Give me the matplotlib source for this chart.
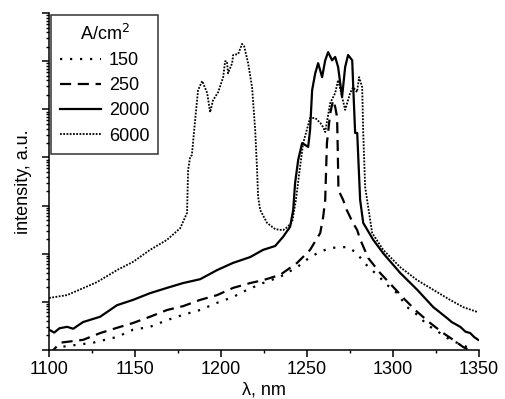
import numpy as np
import matplotlib
matplotlib.use("Agg")
import matplotlib.pyplot as plt
from matplotlib.ticker import LogLocator, MultipleLocator, NullFormatter

plt.rcParams['font.family'] = ['Liberation Sans', 'DejaVu Sans']

# wavelength (nm) and log10 of intensity (a.u.) for each current density
wl_150 = [1100, 1106.4, 1125.6, 1139.5, 1148.8, 1158.7, 1168.6, 1177.9, 1187.8, 1197.7,
          1207, 1215.1, 1224.4, 1234.3, 1244.2, 1251.7, 1257.6, 1263.4, 1273.3, 1279.1,
          1282.6, 1292.4, 1296.5, 1302.3, 1308.1, 1314, 1319.8, 1327.3, 1333.1, 1343, 1350]
lg_150 = [-0.2, 0.06, 0.15, 0.27, 0.42, 0.48, 0.62, 0.73, 0.83, 0.98,
          1.10, 1.25, 1.39, 1.52, 1.72, 1.93, 2.04, 2.12, 2.14, 2.01,
          1.83, 1.50, 1.35, 1.18, 0.89, 0.73, 0.52, 0.35, 0.21, 0.06, -0.1]

wl_250 = [1100, 1106.4, 1119.8, 1129.7, 1139.5, 1148.8, 1158.7, 1168.6, 1177.9, 1187.8,
          1197.7, 1207, 1216.9, 1224.4, 1234.3, 1244.2, 1251.7, 1257.6, 1259.3, 1260.5,
          1261.5, 1263.4, 1265.1, 1266.3, 1267.4, 1267.8, 1268.2, 1270.9, 1273, 1276.5,
          1279.1, 1280.8, 1285.5, 1292.4, 1300, 1307, 1314, 1321.5, 1329.1, 1334.9,
          1340.7, 1350]
lg_250 = [-0.1, 0.15, 0.21, 0.35, 0.46, 0.56, 0.69, 0.83, 0.91, 1.04,
          1.14, 1.29, 1.39, 1.45, 1.56, 1.81, 2.08, 2.43, 2.76, 3.12,
          4.30, 4.92, 5.19, 5.05, 4.84, 4.15, 3.32, 3.12, 2.91, 2.65,
          2.49, 2.30, 1.91, 1.60, 1.31, 1.04, 0.79, 0.56, 0.35, 0.21,
          0.06, -0.1]

wl_2000 = [1100, 1103, 1106, 1110.5, 1114, 1119.8, 1129.7, 1139.5, 1148.8, 1158.7,
           1168.6, 1177.9, 1187.8, 1197.7, 1207, 1216.9, 1224.4, 1231.4, 1236, 1240.1,
           1241.9, 1243, 1244.8, 1247.1, 1250.6, 1251.7, 1252.9, 1254.7, 1256.4, 1258.7,
           1260.5, 1262.2, 1264.5, 1266.3, 1268, 1270.3, 1272.1, 1273.8, 1276.2, 1276.7,
           1277.9, 1279.1, 1280.8, 1282.6, 1288.4, 1294.2, 1304.1, 1314, 1323.3, 1331.4,
           1334, 1337, 1339, 1342, 1344.8, 1347, 1349.4]
lg_2000 = [0.42, 0.36, 0.45, 0.48, 0.44, 0.58, 0.69, 0.93, 1.04, 1.18,
           1.29, 1.39, 1.47, 1.66, 1.81, 1.93, 2.08, 2.16, 2.35, 2.56,
           2.91, 3.47, 3.95, 4.30, 4.22, 4.57, 5.40, 5.75, 5.96, 5.67,
           6.02, 6.19, 6.02, 6.09, 5.88, 5.26, 5.88, 6.13, 6.02, 5.55,
           4.51, 4.51, 3.12, 2.64, 2.29, 2.01, 1.60, 1.25, 0.89, 0.66,
           0.58, 0.52, 0.48, 0.38, 0.35, 0.27, 0.21]

wl_6000 = [1100, 1110.5, 1127.9, 1139.5, 1148.8, 1158.7, 1168.6, 1176.2, 1180.2, 1180.8,
           1182, 1183, 1184.9, 1186.6, 1189, 1191.9, 1193.6, 1195.3, 1198.3, 1201.2,
           1202.3, 1203.4, 1204, 1206.4, 1207, 1209.9, 1212.2, 1213.4, 1215.7, 1218,
           1219.8, 1220.9, 1221.5, 1222.7, 1226.7, 1231.4, 1236, 1238.4, 1241.3, 1243.5,
           1245.5, 1247.7, 1251.7, 1254.7, 1257.6, 1259.3, 1260.5, 1263.4, 1266.3, 1268,
           1270.3, 1272.1, 1275, 1276.7, 1279, 1280.2, 1282, 1282.6, 1283.7, 1287.8,
           1294.2, 1304.1, 1314, 1323.3, 1333.1, 1340.7, 1348.8]
lg_6000 = [1.08, 1.14, 1.41, 1.66, 1.83, 2.08, 2.29, 2.53, 2.85, 3.74,
           4.01, 4.05, 4.78, 5.40, 5.59, 5.34, 4.94, 5.19, 5.36, 5.67,
           6.00, 6.00, 5.75, 5.96, 6.13, 6.15, 6.36, 6.31, 5.96, 5.46,
           4.57, 3.74, 3.18, 2.91, 2.64, 2.51, 2.49, 2.55, 2.66, 3.12,
           3.70, 4.30, 4.82, 4.82, 4.72, 4.63, 4.53, 5.13, 5.34, 5.61,
           5.26, 4.99, 5.34, 5.46, 5.36, 5.67, 5.46, 4.51, 3.39, 2.43,
           2.08, 1.72, 1.45, 1.25, 1.04, 0.89, 0.79]

labels = ['150', '250', '2000', '6000']
styles = [(0, (1, 3.5)), (0, (5, 3)), '-', (0, (1, 0.8))]
widths = [1.6, 1.6, 1.6, 1.3]

fig = plt.figure(figsize=(5.06, 3.99), dpi=100)
ax = fig.add_axes([0.097, 0.123, 0.85, 0.844])

series = [(wl_150, lg_150), (wl_250, lg_250), (wl_2000, lg_2000), (wl_6000, lg_6000)]
for (wl, lg), lab, ls, lw in zip(series, labels, styles, widths):
    ax.plot(wl, np.power(10.0, lg), color='black', linestyle=ls, linewidth=lw, label=lab)

ax.set_yscale('log')
ax.set_ylim(1, 1e7)
ax.set_xlim(1100, 1350)
ax.xaxis.set_major_locator(MultipleLocator(50))
ax.xaxis.set_minor_locator(MultipleLocator(25))
ax.yaxis.set_major_locator(LogLocator(base=10, numticks=20))
ax.yaxis.set_minor_locator(LogLocator(base=10, subs=np.arange(2, 10), numticks=20))
ax.yaxis.set_major_formatter(NullFormatter())
ax.yaxis.set_minor_formatter(NullFormatter())

for s in ['top', 'right']:
    ax.spines[s].set_visible(False)
for s in ['left', 'bottom']:
    ax.spines[s].set_linewidth(1.1)

ax.tick_params(axis='both', which='major', direction='out', length=4.8, width=1.1, labelsize=13)
ax.tick_params(axis='both', which='minor', direction='out', length=2.4, width=1.0)

ax.set_xlabel('λ, nm', fontsize=13, labelpad=2)
ax.set_ylabel('intensity, a.u.', fontsize=13, labelpad=4)

leg = ax.legend(title='A/cm$^2$', loc='upper left', bbox_to_anchor=(0.0, 1.0),
                fontsize=13, title_fontsize=13, frameon=True, fancybox=False,
                handlelength=2.3, handletextpad=0.4, borderpad=0.5, labelspacing=0.45,
                borderaxespad=0.1)
leg.get_frame().set_edgecolor('black')
leg.get_frame().set_linewidth(1.1)

fig.savefig('out.png', dpi=100)
